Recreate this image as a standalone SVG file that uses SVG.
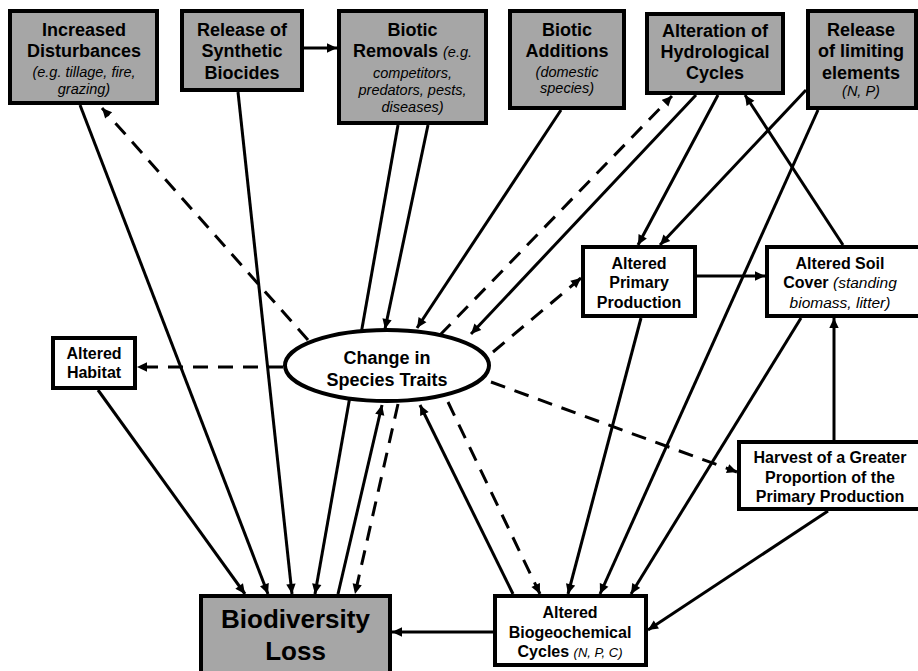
<svg xmlns="http://www.w3.org/2000/svg" width="918" height="671" viewBox="0 0 918 671">
<defs>
<marker id="ah" viewBox="0 0 10 10" refX="10" refY="5" markerWidth="11" markerHeight="10" markerUnits="userSpaceOnUse" orient="auto">
<path d="M0,0.3 L10,5 L0,9.7 z" fill="#000"/>
</marker>
<style>
.c{stroke:#000;stroke-width:3;fill:none;marker-end:url(#ah)}
.d{stroke-dasharray:15 10}
.g{fill:#a6a6a6;stroke:#000;stroke-width:4}
.w{fill:#fff;stroke:#000;stroke-width:4}
text{font-family:"Liberation Sans",Arial,sans-serif;fill:#000;text-anchor:middle}
.b18{font-size:18px;font-weight:bold}
.b16{font-size:16px;font-weight:bold}
.i14{font-size:14.5px;font-style:italic;font-weight:normal}
.i15{font-size:15.5px;font-style:italic;font-weight:normal}
.i13{font-size:13px;font-style:italic;font-weight:normal}
</style>
</defs>
<rect width="918" height="671" fill="#fff"/>
<g id="connectors">
<line class="c" x1="80" y1="105" x2="268" y2="594"/>
<line class="c d" x1="308" y1="340" x2="102" y2="108"/>
<line class="c" x1="238" y1="92" x2="292" y2="594"/>
<line class="c" x1="304" y1="48" x2="337" y2="48"/>
<line class="c" x1="398" y1="125" x2="315" y2="594"/>
<line class="c" x1="428" y1="125" x2="385" y2="329"/>
<line class="c" x1="561" y1="110" x2="417" y2="328"/>
<line class="c d" x1="440" y1="335" x2="672" y2="96"/>
<line class="c" x1="696" y1="95" x2="471" y2="334"/>
<line class="c d" x1="493" y1="352" x2="581" y2="278"/>
<line class="c" x1="718" y1="95" x2="638" y2="245"/>
<line class="c" x1="806" y1="90" x2="660" y2="245"/>
<line class="c" x1="818" y1="110" x2="600" y2="594"/>
<line class="c" x1="843" y1="245" x2="745" y2="95"/>
<line class="c" x1="697" y1="276" x2="765" y2="276"/>
<line class="c" x1="834" y1="440" x2="834" y2="318"/>
<line class="c" x1="828" y1="511" x2="648" y2="630"/>
<line class="c" x1="641" y1="318" x2="568" y2="594"/>
<line class="c" x1="801" y1="318" x2="631" y2="594"/>
<line class="c d" x1="491" y1="382" x2="737" y2="472"/>
<line class="c d" x1="283" y1="367" x2="137" y2="367"/>
<line class="c" x1="98" y1="390" x2="245" y2="594"/>
<line class="c" x1="338" y1="594" x2="382" y2="405"/>
<line class="c d" x1="398" y1="404" x2="355" y2="594"/>
<line class="c d" x1="448" y1="402" x2="540" y2="594"/>
<line class="c" x1="513" y1="594" x2="420" y2="405"/>
<line class="c" x1="493" y1="632" x2="392" y2="632"/>
</g>
<g id="increased-disturbances">
<rect class="g" x="10" y="11" width="147" height="92"/>
<text class="b18" x="84" y="36">Increased</text>
<text class="b18" x="84" y="57">Disturbances</text>
<text class="i14" x="84" y="77">(e.g. tillage, fire,</text>
<text class="i14" x="84" y="94">grazing)</text>
</g>
<g id="synthetic-biocides">
<rect class="g" x="182" y="11" width="120" height="79"/>
<text class="b18" x="242" y="36">Release of</text>
<text class="b18" x="242" y="57">Synthetic</text>
<text class="b18" x="242" y="79">Biocides</text>
</g>
<g id="biotic-removals">
<rect class="g" x="339" y="11" width="147" height="112"/>
<text class="b18" x="412.5" y="36">Biotic</text>
<text class="b18" x="412.5" y="57">Removals <tspan class="i14">(e.g.</tspan></text>
<text class="i14" x="412.5" y="78">competitors,</text>
<text class="i14" x="412.5" y="95">predators, pests,</text>
<text class="i14" x="412.5" y="112">diseases)</text>
</g>
<g id="biotic-additions">
<rect class="g" x="510" y="11" width="114" height="97"/>
<text class="b18" x="567" y="36">Biotic</text>
<text class="b18" x="567" y="57">Additions</text>
<text class="i14" x="567" y="77">(domestic</text>
<text class="i14" x="567" y="93">species)</text>
</g>
<g id="hydrological-cycles">
<rect class="g" x="647" y="14" width="136" height="79"/>
<text class="b18" x="715" y="36.5">Alteration of</text>
<text class="b18" x="715" y="57.5">Hydrological</text>
<text class="b18" x="715" y="79">Cycles</text>
</g>
<g id="limiting-elements">
<rect class="g" x="808" y="11" width="108" height="97"/>
<text class="b18" x="861" y="36">Release</text>
<text class="b18" x="861" y="57">of limiting</text>
<text class="b18" x="861" y="79">elements</text>
<text class="i14" x="861" y="96">(N, P)</text>
</g>
<g id="primary-production">
<rect class="w" x="583" y="247" width="112" height="69"/>
<text class="b16" x="639" y="268.5">Altered</text>
<text class="b16" x="639" y="288">Primary</text>
<text class="b16" x="639" y="307.5">Production</text>
</g>
<g id="soil-cover">
<rect class="w" x="767" y="247" width="160" height="69"/>
<text class="b16" x="840" y="268.5">Altered Soil</text>
<text class="b16" x="840" y="288">Cover <tspan class="i15">(standing</tspan></text>
<text class="i15" x="840" y="307.5">biomass, litter)</text>
</g>
<g id="altered-habitat">
<rect class="w" x="53" y="338" width="82" height="50"/>
<text class="b16" x="94" y="359">Altered</text>
<text class="b16" x="94" y="378">Habitat</text>
</g>
<g id="species-traits">
<ellipse class="w" cx="387" cy="365.5" rx="102" ry="35.5"/>
<text class="b18" x="387" y="363.5">Change in</text>
<text class="b18" x="387" y="386">Species Traits</text>
</g>
<g id="harvest">
<rect class="w" x="739" y="442" width="190" height="67"/>
<text class="b16" x="830" y="463">Harvest of a Greater</text>
<text class="b16" x="830" y="482.5">Proportion of the</text>
<text class="b16" x="830" y="501.5">Primary Production</text>
</g>
<g id="biogeochemical-cycles">
<rect class="w" x="495" y="596" width="151" height="69"/>
<text class="b16" x="570" y="618">Altered</text>
<text class="b16" x="570" y="637.5">Biogeochemical</text>
<text class="b16" x="570" y="656.5">Cycles <tspan class="i13">(N, P, C)</tspan></text>
</g>
<g id="biodiversity-loss">
<rect class="g" x="201" y="596" width="189" height="90"/>
<text x="295.5" y="628" style="font-size:26px;font-weight:bold">Biodiversity</text>
<text x="295.5" y="660" style="font-size:26px;font-weight:bold">Loss</text>
</g>
</svg>
